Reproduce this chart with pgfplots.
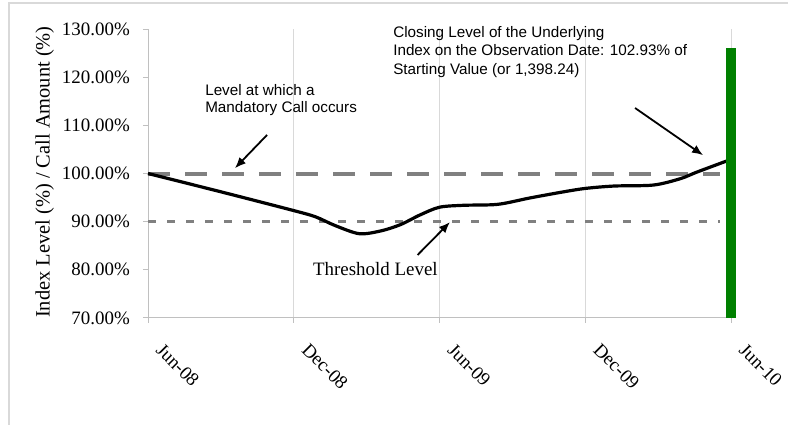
\documentclass[border=0pt]{standalone}
\usepackage{pgfplots}
\pgfplotsset{compat=1.18}
\usetikzlibrary{arrows.meta}
\usepackage{fontspec}
\setmainfont{Liberation Serif}
\newfontfamily\arial{Liberation Sans}
\definecolor{gridgray}{HTML}{D9D9D9}
\definecolor{axgray}{HTML}{C0C0C0}
\definecolor{lvlgray}{HTML}{808080}
\definecolor{bargreen}{HTML}{008000}
\begin{document}
\begin{tikzpicture}
\useasboundingbox (0,0) rectangle (788bp,425bp);
\fill[white] (0,0) rectangle (788bp,425bp);
\draw[color=gridgray, line width=1.5bp] (9bp,0) -- (9bp,422bp) -- (788bp,422bp);
\begin{axis}[
  at={(148bp,107bp)}, anchor=south west,
  scale only axis, width=583bp, height=289bp,
  xmin=0, xmax=24, ymin=70, ymax=130,
  clip=false,
  axis x line=bottom, axis y line=left,
  axis line style={draw=axgray, line width=1bp, -},
  xtick={0,6,12,18,24},
  xticklabels={Jun-08,Dec-08,Jun-09,Dec-09,Jun-10},
  ytick={70,80,90,100,110,120,130},
  yticklabel={\pgfmathprintnumber[fixed,fixed zerofill,precision=2]{\tick}\%},
  /pgf/number format/assume math mode=true,
  xmajorgrids, major x grid style={draw=gridgray, line width=1bp},
  tick align=outside, major tick length=5bp,
  tick style={draw=axgray, line width=1bp},
  tick label style={font=\fontsize{19}{22}\selectfont},
  yticklabel style={anchor=east, inner sep=0pt, xshift=-13bp},
  xticklabel style={inner sep=0pt, xshift=16bp, yshift=-19bp, rotate=-45, anchor=north west},
  ylabel={Index Level (\%) / Call Amount (\%)},
  every axis y label/.style={at={(axis description cs:-0.177,0.505)}, rotate=90, anchor=center, font=\fontsize{20.5}{24}\selectfont},
]
% threshold levels
\addplot[draw=lvlgray, line width=4bp, dash pattern=on 22bp off 15bp] coordinates {(0,100) (23.55,100)};
\addplot[draw=lvlgray, line width=3.5bp, dash pattern=on 8bp off 11bp] coordinates {(0,90) (23.55,90)};
% index level
\addplot[black, line width=3.2bp, smooth, tension=0.5] coordinates {
(0,100) (3,96.2) (6,92.3) (6.9,91.0) (7.7,89.2) (8.7,87.5) (9.6,88.1) (10.4,89.4)
(11.2,91.4) (12,93.0) (13,93.4) (14.4,93.6) (15.7,94.9) (17,96.1) (18,96.9)
(19.2,97.4) (20.8,97.6) (21.9,98.9) (22.6,100.3) (24,102.93)};
% observation date bar
\addplot[draw=bargreen, line width=10bp] coordinates {(24,70) (24,126)};
% annotations
\node[anchor=north west, align=left, inner sep=0pt, font=\arial\fontsize{15.3}{17}\selectfont]
  at (axis cs:2.35,118.6) {Level at which a\\Mandatory Call occurs};
\draw[-{Latex[length=11bp,width=9bp]}, line width=1.8bp] (axis cs:4.9,108.0) -- (axis cs:3.58,101.1);
\node[anchor=base west, inner sep=0pt, font=\fontsize{19}{22}\selectfont]
  at (axis cs:6.79,78.9) {Threshold Level};
\draw[-{Latex[length=11bp,width=9bp]}, line width=1.8bp] (axis cs:11.1,83.1) -- (axis cs:12.43,89.9);
\node[anchor=north west, align=left, inner sep=0pt, font=\arial\fontsize{15.3}{18.5}\selectfont]
  at (axis cs:10.09,130.6) {Closing Level of the Underlying\\Index on the Observation Date: 102.93\% of\\Starting Value (or 1,398.24)};
\draw[-{Latex[length=11bp,width=9bp]}, line width=1.8bp] (axis cs:20.05,113.6) -- (axis cs:22.85,103.8);
\end{axis}
\end{tikzpicture}
\end{document}
